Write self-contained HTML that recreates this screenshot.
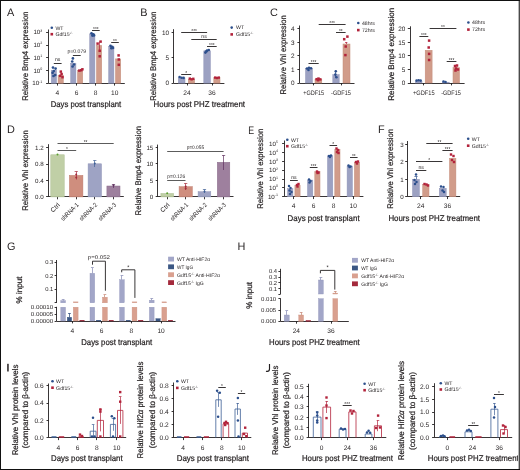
<!DOCTYPE html>
<html><head><meta charset="utf-8"><style>
html,body{margin:0;padding:0;background:#fff;}
svg{display:block;will-change:transform;}
text{font-family:"Liberation Sans",sans-serif;fill:#231f20;text-rendering:geometricPrecision;}
text.b{stroke:#231f20;stroke-width:0.22px;}
</style></head><body>
<svg width="520" height="470" viewBox="0 0 520 470">
<rect x="0" y="0" width="520" height="470" fill="#fff"/>
<text x="7" y="16.3" font-size="10.9">A</text>
<text x="28.3" y="56.2" font-size="8.2" text-anchor="middle" textLength="89.3" lengthAdjust="spacingAndGlyphs" transform="rotate(-90 28.3 56.2)" class="b">Relative Bmp4 expression</text>
<line x1="48.5" y1="29.5" x2="48.5" y2="83.2" stroke="#231f20" stroke-width="0.9"/>
<line x1="46.1" y1="32.5" x2="48.3" y2="32.5" stroke="#231f20" stroke-width="0.9"/>
<line x1="46.1" y1="45.5" x2="48.3" y2="45.5" stroke="#231f20" stroke-width="0.9"/>
<line x1="46.1" y1="57.5" x2="48.3" y2="57.5" stroke="#231f20" stroke-width="0.9"/>
<line x1="46.1" y1="70.5" x2="48.3" y2="70.5" stroke="#231f20" stroke-width="0.9"/>
<line x1="46.1" y1="83.5" x2="48.3" y2="83.5" stroke="#231f20" stroke-width="0.9"/>
<text x="42.3" y="34.2" font-size="6.2" text-anchor="end">10<tspan dy="-2.7" font-size="3.6">3</tspan></text>
<text x="42.3" y="47.1" font-size="6.2" text-anchor="end">10<tspan dy="-2.7" font-size="3.6">2</tspan></text>
<text x="42.3" y="59.8" font-size="6.2" text-anchor="end">10<tspan dy="-2.7" font-size="3.6">1</tspan></text>
<text x="42.3" y="72.6" font-size="6.2" text-anchor="end">10<tspan dy="-2.7" font-size="3.6">0</tspan></text>
<text x="42.3" y="85.3" font-size="6.2" text-anchor="end">10<tspan dy="-2.7" font-size="3.6">-1</tspan></text>
<line x1="48.3" y1="83.5" x2="124.8" y2="83.5" stroke="#231f20" stroke-width="0.9"/>
<line x1="57.5" y1="83.2" x2="57.5" y2="85.6" stroke="#231f20" stroke-width="0.9"/>
<text x="57.3" y="94.6" font-size="6.6" text-anchor="middle">4</text>
<line x1="76.5" y1="83.2" x2="76.5" y2="85.6" stroke="#231f20" stroke-width="0.9"/>
<text x="76.7" y="94.6" font-size="6.6" text-anchor="middle">6</text>
<line x1="95.5" y1="83.2" x2="95.5" y2="85.6" stroke="#231f20" stroke-width="0.9"/>
<text x="95.7" y="94.6" font-size="6.6" text-anchor="middle">8</text>
<line x1="114.5" y1="83.2" x2="114.5" y2="85.6" stroke="#231f20" stroke-width="0.9"/>
<text x="114.7" y="94.6" font-size="6.6" text-anchor="middle">10</text>
<text x="50.7" y="106.8" font-size="8.4" textLength="70.6" lengthAdjust="spacingAndGlyphs" class="b">Days post transplant</text>
<rect x="51.3" y="70.2" width="5.2" height="13" fill="#9ca1c2" stroke="#8f94b8" stroke-width="0.5"/>
<rect x="58.1" y="75.2" width="5.2" height="8" fill="#d19c8a" stroke="#c48b79" stroke-width="0.5"/>
<rect x="70.7" y="63.2" width="5.2" height="20" fill="#9ca1c2" stroke="#8f94b8" stroke-width="0.5"/>
<rect x="77.5" y="70.4" width="5.2" height="12.8" fill="#d19c8a" stroke="#c48b79" stroke-width="0.5"/>
<rect x="89.7" y="33.9" width="5.2" height="49.3" fill="#9ca1c2" stroke="#8f94b8" stroke-width="0.5"/>
<rect x="96.5" y="45.4" width="5.2" height="37.8" fill="#d19c8a" stroke="#c48b79" stroke-width="0.5"/>
<rect x="108.7" y="46.6" width="5.2" height="36.6" fill="#9ca1c2" stroke="#8f94b8" stroke-width="0.5"/>
<rect x="115.5" y="58.9" width="5.2" height="24.3" fill="#d19c8a" stroke="#c48b79" stroke-width="0.5"/>
<circle cx="53" cy="67.6" r="1.35" fill="#2c4f8c"/>
<circle cx="55.6" cy="68.6" r="1.35" fill="#2c4f8c"/>
<circle cx="53.8" cy="71" r="1.35" fill="#2c4f8c"/>
<circle cx="52.6" cy="72.8" r="1.35" fill="#2c4f8c"/>
<circle cx="55.2" cy="75" r="1.35" fill="#2c4f8c"/>
<circle cx="53.5" cy="76" r="1.35" fill="#2c4f8c"/>
<rect x="59.55" y="70.35" width="2.5" height="2.5" fill="#b2233b"/>
<rect x="60.35" y="72.75" width="2.5" height="2.5" fill="#b2233b"/>
<rect x="58.95" y="74.55" width="2.5" height="2.5" fill="#b2233b"/>
<rect x="61.25" y="75.95" width="2.5" height="2.5" fill="#b2233b"/>
<circle cx="72.9" cy="58.4" r="1.35" fill="#2c4f8c"/>
<circle cx="72.2" cy="61.5" r="1.35" fill="#2c4f8c"/>
<circle cx="74" cy="64.5" r="1.35" fill="#2c4f8c"/>
<circle cx="72.6" cy="66.5" r="1.35" fill="#2c4f8c"/>
<rect x="78.05" y="69.35" width="2.5" height="2.5" fill="#b2233b"/>
<rect x="79.95" y="68.95" width="2.5" height="2.5" fill="#b2233b"/>
<rect x="81.15" y="68.05" width="2.5" height="2.5" fill="#b2233b"/>
<circle cx="91.5" cy="33.3" r="1.35" fill="#2c4f8c"/>
<circle cx="93.2" cy="34.3" r="1.35" fill="#2c4f8c"/>
<circle cx="92.4" cy="35.6" r="1.35" fill="#2c4f8c"/>
<circle cx="94" cy="35.4" r="1.35" fill="#2c4f8c"/>
<rect x="96.35" y="42.35" width="2.5" height="2.5" fill="#b2233b"/>
<rect x="99.35" y="40.35" width="2.5" height="2.5" fill="#b2233b"/>
<rect x="98.45" y="49.55" width="2.5" height="2.5" fill="#b2233b"/>
<rect x="98.45" y="55.05" width="2.5" height="2.5" fill="#b2233b"/>
<line x1="99.5" y1="41.5" x2="99.5" y2="50" stroke="#b2233b" stroke-width="0.7"/>
<circle cx="110.5" cy="45.8" r="1.35" fill="#2c4f8c"/>
<circle cx="112.2" cy="46.8" r="1.35" fill="#2c4f8c"/>
<circle cx="111.4" cy="48.2" r="1.35" fill="#2c4f8c"/>
<circle cx="113" cy="48" r="1.35" fill="#2c4f8c"/>
<rect x="117.35" y="54.15" width="2.5" height="2.5" fill="#b2233b"/>
<rect x="117.55" y="58.25" width="2.5" height="2.5" fill="#b2233b"/>
<rect x="117.55" y="63.55" width="2.5" height="2.5" fill="#b2233b"/>
<line x1="53.8" y1="63.5" x2="61.6" y2="63.5" stroke="#231f20" stroke-width="0.9"/>
<text x="57.7" y="61.4" font-size="5.2" text-anchor="middle">ns</text>
<line x1="72.9" y1="55.5" x2="80.7" y2="55.5" stroke="#231f20" stroke-width="0.9"/>
<text x="76.8" y="53.4" font-size="5.2" text-anchor="middle" textLength="18.5" lengthAdjust="spacingAndGlyphs">p=0.079</text>
<line x1="92" y1="30.5" x2="99.7" y2="30.5" stroke="#231f20" stroke-width="0.9"/>
<text x="95.85" y="31.1" font-size="6" text-anchor="middle" textLength="5.7" lengthAdjust="spacingAndGlyphs">***</text>
<line x1="111.2" y1="42.5" x2="118.8" y2="42.5" stroke="#231f20" stroke-width="0.9"/>
<text x="115" y="43.1" font-size="6" text-anchor="middle" textLength="3.8" lengthAdjust="spacingAndGlyphs">**</text>
<circle cx="51.8" cy="27.8" r="1.3" fill="#2c4f8c"/>
<text x="55.4" y="29.67" font-size="5.2">WT</text>
<rect x="50.5" y="32.9" width="2.6" height="2.6" fill="#b2233b"/>
<text x="55.4" y="36.07" font-size="5.2">Gdf15<tspan dy="-2" font-size="3.12">-/-</tspan></text>
<text x="140.2" y="16.3" font-size="10.9">B</text>
<text x="155.6" y="56.2" font-size="8.2" text-anchor="middle" textLength="89.3" lengthAdjust="spacingAndGlyphs" transform="rotate(-90 155.6 56.2)" class="b">Relative Bmp4 expression</text>
<line x1="173.5" y1="29.2" x2="173.5" y2="83.1" stroke="#231f20" stroke-width="0.9"/>
<line x1="171.6" y1="32.5" x2="173.8" y2="32.5" stroke="#231f20" stroke-width="0.9"/>
<text x="169" y="34.8" font-size="6.4" text-anchor="end">10</text>
<line x1="171.6" y1="57.5" x2="173.8" y2="57.5" stroke="#231f20" stroke-width="0.9"/>
<text x="169" y="60.1" font-size="6.4" text-anchor="end">5</text>
<line x1="171.6" y1="83.5" x2="173.8" y2="83.5" stroke="#231f20" stroke-width="0.9"/>
<text x="169" y="85.4" font-size="6.4" text-anchor="end">0</text>
<line x1="173.8" y1="83.5" x2="224.4" y2="83.5" stroke="#231f20" stroke-width="0.9"/>
<line x1="187.5" y1="83.1" x2="187.5" y2="85.5" stroke="#231f20" stroke-width="0.9"/>
<text x="187" y="95" font-size="6.6" text-anchor="middle">24</text>
<line x1="212.5" y1="83.1" x2="212.5" y2="85.5" stroke="#231f20" stroke-width="0.9"/>
<text x="212" y="95" font-size="6.6" text-anchor="middle">36</text>
<text x="153.6" y="107.1" font-size="8.4" textLength="91.4" lengthAdjust="spacingAndGlyphs" class="b">Hours post PHZ treatment</text>
<rect x="178.3" y="77.8" width="6.7" height="5.3" fill="#9ca1c2" stroke="#8f94b8" stroke-width="0.5"/>
<rect x="188.3" y="79.2" width="6.3" height="3.9" fill="#d19c8a" stroke="#c48b79" stroke-width="0.5"/>
<rect x="203.8" y="50.8" width="6.6" height="32.3" fill="#9ca1c2" stroke="#8f94b8" stroke-width="0.5"/>
<rect x="213.8" y="77.6" width="6.2" height="5.5" fill="#d19c8a" stroke="#c48b79" stroke-width="0.5"/>
<circle cx="179.6" cy="77" r="1.3" fill="#2c4f8c"/>
<circle cx="181.6" cy="77.8" r="1.3" fill="#2c4f8c"/>
<circle cx="183.6" cy="77.9" r="1.3" fill="#2c4f8c"/>
<rect x="188.6" y="77.4" width="2.4" height="2.4" fill="#b2233b"/>
<rect x="190.4" y="78.1" width="2.4" height="2.4" fill="#b2233b"/>
<rect x="192.1" y="77.6" width="2.4" height="2.4" fill="#b2233b"/>
<circle cx="205.4" cy="52.6" r="1.3" fill="#2c4f8c"/>
<circle cx="207" cy="50.6" r="1.3" fill="#2c4f8c"/>
<circle cx="208.8" cy="50" r="1.3" fill="#2c4f8c"/>
<circle cx="206.4" cy="51.4" r="1.3" fill="#2c4f8c"/>
<rect x="214" y="76.4" width="2.4" height="2.4" fill="#b2233b"/>
<rect x="215.8" y="76.8" width="2.4" height="2.4" fill="#b2233b"/>
<rect x="217.6" y="76.4" width="2.4" height="2.4" fill="#b2233b"/>
<line x1="181.2" y1="32.5" x2="207.1" y2="32.5" stroke="#231f20" stroke-width="0.9"/>
<text x="194.15" y="33.1" font-size="6" text-anchor="middle" textLength="5.7" lengthAdjust="spacingAndGlyphs">***</text>
<line x1="191.3" y1="39.5" x2="216.7" y2="39.5" stroke="#231f20" stroke-width="0.9"/>
<text x="204" y="37.8" font-size="5.2" text-anchor="middle">ns</text>
<line x1="207" y1="46.5" x2="216.7" y2="46.5" stroke="#231f20" stroke-width="0.9"/>
<text x="211.85" y="47.1" font-size="6" text-anchor="middle" textLength="5.7" lengthAdjust="spacingAndGlyphs">***</text>
<line x1="181.2" y1="74.5" x2="191.3" y2="74.5" stroke="#231f20" stroke-width="0.9"/>
<text x="186.25" y="75.1" font-size="6" text-anchor="middle" textLength="1.9" lengthAdjust="spacingAndGlyphs">*</text>
<circle cx="231.7" cy="27.6" r="1.3" fill="#2c4f8c"/>
<text x="236.1" y="29.47" font-size="5.2">WT</text>
<rect x="230.4" y="33.1" width="2.6" height="2.6" fill="#b2233b"/>
<text x="236.1" y="36.27" font-size="5.2">Gdf15<tspan dy="-2" font-size="3.12">-/-</tspan></text>
<text x="270" y="16.3" font-size="10.9">C</text>
<text x="285.8" y="54.9" font-size="8.2" text-anchor="middle" textLength="79.2" lengthAdjust="spacingAndGlyphs" transform="rotate(-90 285.8 54.9)" class="b">Relative Vhl expression</text>
<line x1="299.5" y1="25.5" x2="299.5" y2="83" stroke="#231f20" stroke-width="0.9"/>
<line x1="297.4" y1="28.5" x2="299.6" y2="28.5" stroke="#231f20" stroke-width="0.9"/>
<text x="294.5" y="30.9" font-size="6.4" text-anchor="end">4</text>
<line x1="297.4" y1="42.5" x2="299.6" y2="42.5" stroke="#231f20" stroke-width="0.9"/>
<text x="294.5" y="44.5" font-size="6.4" text-anchor="end">3</text>
<line x1="297.4" y1="55.5" x2="299.6" y2="55.5" stroke="#231f20" stroke-width="0.9"/>
<text x="294.5" y="58.1" font-size="6.4" text-anchor="end">2</text>
<line x1="297.4" y1="69.5" x2="299.6" y2="69.5" stroke="#231f20" stroke-width="0.9"/>
<text x="294.5" y="71.7" font-size="6.4" text-anchor="end">1</text>
<line x1="297.4" y1="83.5" x2="299.6" y2="83.5" stroke="#231f20" stroke-width="0.9"/>
<text x="294.5" y="85.3" font-size="6.4" text-anchor="end">0</text>
<line x1="299.6" y1="83.5" x2="354.5" y2="83.5" stroke="#231f20" stroke-width="0.9"/>
<line x1="313.5" y1="83" x2="313.5" y2="85.4" stroke="#231f20" stroke-width="0.9"/>
<text x="313.7" y="94.6" font-size="6.6" text-anchor="middle" textLength="21" lengthAdjust="spacingAndGlyphs">+GDF15</text>
<line x1="341.5" y1="83" x2="341.5" y2="85.4" stroke="#231f20" stroke-width="0.9"/>
<text x="341" y="94.6" font-size="6.6" text-anchor="middle" textLength="19.8" lengthAdjust="spacingAndGlyphs">-GDF15</text>
<rect x="305.5" y="68.5" width="6.9" height="14.5" fill="#9ca1c2" stroke="#8f94b8" stroke-width="0.5"/>
<rect x="315" y="79.2" width="6.8" height="3.8" fill="#d19c8a" stroke="#c48b79" stroke-width="0.5"/>
<rect x="332.8" y="74.6" width="6.4" height="8.4" fill="#9ca1c2" stroke="#8f94b8" stroke-width="0.5"/>
<rect x="343" y="44" width="7" height="39" fill="#d19c8a" stroke="#c48b79" stroke-width="0.5"/>
<circle cx="307" cy="68.5" r="1.3" fill="#2c4f8c"/>
<circle cx="309" cy="67.8" r="1.3" fill="#2c4f8c"/>
<circle cx="311" cy="68.3" r="1.3" fill="#2c4f8c"/>
<circle cx="308.5" cy="70" r="1.3" fill="#2c4f8c"/>
<rect x="315.35" y="77.95" width="2.5" height="2.5" fill="#b2233b"/>
<rect x="317.25" y="77.35" width="2.5" height="2.5" fill="#b2233b"/>
<rect x="319.05" y="78.15" width="2.5" height="2.5" fill="#b2233b"/>
<rect x="316.75" y="78.95" width="2.5" height="2.5" fill="#b2233b"/>
<line x1="335.5" y1="70.5" x2="335.5" y2="78" stroke="#2c4f8c" stroke-width="0.7"/>
<circle cx="335.8" cy="71.2" r="1.3" fill="#2c4f8c"/>
<circle cx="335.4" cy="74.6" r="1.3" fill="#2c4f8c"/>
<circle cx="336.4" cy="77.3" r="1.3" fill="#2c4f8c"/>
<rect x="342.95" y="37.95" width="2.5" height="2.5" fill="#b2233b"/>
<rect x="346.15" y="35.35" width="2.5" height="2.5" fill="#b2233b"/>
<rect x="344.45" y="45.25" width="2.5" height="2.5" fill="#b2233b"/>
<rect x="344.15" y="53.85" width="2.5" height="2.5" fill="#b2233b"/>
<line x1="346.5" y1="44" x2="346.5" y2="42.3" stroke="#b2233b" stroke-width="0.7"/>
<line x1="345" y1="42.5" x2="347.4" y2="42.5" stroke="#b2233b" stroke-width="0.7"/>
<line x1="318.7" y1="24.5" x2="345.6" y2="24.5" stroke="#231f20" stroke-width="0.9"/>
<text x="332.15" y="25.1" font-size="6" text-anchor="middle" textLength="5.7" lengthAdjust="spacingAndGlyphs">***</text>
<line x1="336" y1="32.5" x2="345.6" y2="32.5" stroke="#231f20" stroke-width="0.9"/>
<text x="340.8" y="33.1" font-size="6" text-anchor="middle" textLength="3.8" lengthAdjust="spacingAndGlyphs">**</text>
<line x1="308.5" y1="63.5" x2="318.7" y2="63.5" stroke="#231f20" stroke-width="0.9"/>
<text x="313.6" y="64.1" font-size="6" text-anchor="middle" textLength="5.7" lengthAdjust="spacingAndGlyphs">***</text>
<circle cx="358.3" cy="23" r="1.3" fill="#2c4f8c"/>
<text x="361.9" y="24.87" font-size="5.2">48hrs</text>
<rect x="357" y="28.8" width="2.6" height="2.6" fill="#b2233b"/>
<text x="361.9" y="31.97" font-size="5.2">72hrs</text>
<text x="394.3" y="54.3" font-size="8.2" text-anchor="middle" textLength="93" lengthAdjust="spacingAndGlyphs" transform="rotate(-90 394.3 54.3)" class="b">Relative Bmp4 expression</text>
<line x1="410.5" y1="26.3" x2="410.5" y2="83" stroke="#231f20" stroke-width="0.9"/>
<line x1="407.8" y1="28.5" x2="410" y2="28.5" stroke="#231f20" stroke-width="0.9"/>
<text x="405.4" y="30.9" font-size="6.4" text-anchor="end">20</text>
<line x1="407.8" y1="42.5" x2="410" y2="42.5" stroke="#231f20" stroke-width="0.9"/>
<text x="405.4" y="44.5" font-size="6.4" text-anchor="end">15</text>
<line x1="407.8" y1="55.5" x2="410" y2="55.5" stroke="#231f20" stroke-width="0.9"/>
<text x="405.4" y="58.1" font-size="6.4" text-anchor="end">10</text>
<line x1="407.8" y1="69.5" x2="410" y2="69.5" stroke="#231f20" stroke-width="0.9"/>
<text x="405.4" y="71.7" font-size="6.4" text-anchor="end">5</text>
<line x1="407.8" y1="83.5" x2="410" y2="83.5" stroke="#231f20" stroke-width="0.9"/>
<text x="405.4" y="85.3" font-size="6.4" text-anchor="end">0</text>
<line x1="410" y1="83.5" x2="464.6" y2="83.5" stroke="#231f20" stroke-width="0.9"/>
<line x1="423.5" y1="83" x2="423.5" y2="85.4" stroke="#231f20" stroke-width="0.9"/>
<text x="423.8" y="94.5" font-size="6.6" text-anchor="middle" textLength="21.5" lengthAdjust="spacingAndGlyphs">+GDF15</text>
<line x1="451.5" y1="83" x2="451.5" y2="85.4" stroke="#231f20" stroke-width="0.9"/>
<text x="451" y="94.5" font-size="6.6" text-anchor="middle" textLength="19.5" lengthAdjust="spacingAndGlyphs">-GDF15</text>
<rect x="415.5" y="81.2" width="6.5" height="1.8" fill="#9ca1c2" stroke="#8f94b8" stroke-width="0.5"/>
<rect x="425.2" y="50.3" width="6.9" height="32.7" fill="#d19c8a" stroke="#c48b79" stroke-width="0.5"/>
<rect x="442.4" y="82.2" width="6.9" height="0.8" fill="#9ca1c2" stroke="#8f94b8" stroke-width="0.5"/>
<rect x="453" y="67.7" width="6.5" height="15.3" fill="#d19c8a" stroke="#c48b79" stroke-width="0.5"/>
<circle cx="416.6" cy="80.6" r="1.3" fill="#2c4f8c"/>
<circle cx="418.6" cy="80.2" r="1.3" fill="#2c4f8c"/>
<circle cx="420.6" cy="80.6" r="1.3" fill="#2c4f8c"/>
<rect x="427.85" y="39.35" width="2.5" height="2.5" fill="#b2233b"/>
<rect x="427.45" y="46.25" width="2.5" height="2.5" fill="#b2233b"/>
<rect x="427.85" y="52.65" width="2.5" height="2.5" fill="#b2233b"/>
<rect x="427.85" y="58.75" width="2.5" height="2.5" fill="#b2233b"/>
<circle cx="443.5" cy="81.5" r="1.3" fill="#2c4f8c"/>
<circle cx="445.5" cy="82" r="1.3" fill="#2c4f8c"/>
<rect x="453.75" y="64.75" width="2.5" height="2.5" fill="#b2233b"/>
<rect x="455.75" y="64.25" width="2.5" height="2.5" fill="#b2233b"/>
<rect x="454.75" y="67.25" width="2.5" height="2.5" fill="#b2233b"/>
<rect x="456.75" y="68.25" width="2.5" height="2.5" fill="#b2233b"/>
<rect x="454.25" y="69.25" width="2.5" height="2.5" fill="#b2233b"/>
<line x1="419.4" y1="36.5" x2="428.3" y2="36.5" stroke="#231f20" stroke-width="0.9"/>
<text x="423.85" y="37.1" font-size="6" text-anchor="middle" textLength="5.7" lengthAdjust="spacingAndGlyphs">***</text>
<line x1="429.6" y1="28.5" x2="456.4" y2="28.5" stroke="#231f20" stroke-width="0.9"/>
<text x="443" y="29.1" font-size="6" text-anchor="middle" textLength="3.8" lengthAdjust="spacingAndGlyphs">**</text>
<line x1="446.7" y1="61.5" x2="456.4" y2="61.5" stroke="#231f20" stroke-width="0.9"/>
<text x="451.55" y="62.1" font-size="6" text-anchor="middle" textLength="5.7" lengthAdjust="spacingAndGlyphs">***</text>
<circle cx="468.4" cy="22.5" r="1.3" fill="#2c4f8c"/>
<text x="472" y="24.37" font-size="5.2">48hrs</text>
<rect x="467.1" y="28.3" width="2.6" height="2.6" fill="#b2233b"/>
<text x="472" y="31.47" font-size="5.2">72hrs</text>
<text x="7" y="133.1" font-size="10.9">D</text>
<text x="28.3" y="170.5" font-size="8.2" text-anchor="middle" textLength="80.5" lengthAdjust="spacingAndGlyphs" transform="rotate(-90 28.3 170.5)" class="b">Relative Vhl expression</text>
<line x1="48.5" y1="144.2" x2="48.5" y2="196.9" stroke="#231f20" stroke-width="0.9"/>
<line x1="46.1" y1="147.5" x2="48.3" y2="147.5" stroke="#231f20" stroke-width="0.9"/>
<text x="43.7" y="149.73" font-size="6.2" text-anchor="end">1.2</text>
<line x1="46.1" y1="164.5" x2="48.3" y2="164.5" stroke="#231f20" stroke-width="0.9"/>
<text x="43.7" y="166.23" font-size="6.2" text-anchor="end">0.8</text>
<line x1="46.1" y1="180.5" x2="48.3" y2="180.5" stroke="#231f20" stroke-width="0.9"/>
<text x="43.7" y="182.63" font-size="6.2" text-anchor="end">0.4</text>
<line x1="46.1" y1="196.5" x2="48.3" y2="196.5" stroke="#231f20" stroke-width="0.9"/>
<text x="43.7" y="199.13" font-size="6.2" text-anchor="end">0.0</text>
<line x1="48.3" y1="196.5" x2="123.8" y2="196.5" stroke="#231f20" stroke-width="0.9"/>
<line x1="57.5" y1="196.9" x2="57.5" y2="199.3" stroke="#231f20" stroke-width="0.9"/>
<line x1="76.5" y1="196.9" x2="76.5" y2="199.3" stroke="#231f20" stroke-width="0.9"/>
<line x1="94.5" y1="196.9" x2="94.5" y2="199.3" stroke="#231f20" stroke-width="0.9"/>
<line x1="113.5" y1="196.9" x2="113.5" y2="199.3" stroke="#231f20" stroke-width="0.9"/>
<rect x="50.8" y="154.8" width="13.4" height="42.1" fill="#c0cfa6" stroke="#a9bb8d" stroke-width="0.5"/>
<rect x="69.4" y="175.4" width="13.5" height="21.5" fill="#cf8e7e" stroke="#bd7a6a" stroke-width="0.5"/>
<rect x="88.1" y="163.8" width="13.4" height="33.1" fill="#9ea3c4" stroke="#8f94b8" stroke-width="0.5"/>
<rect x="106.9" y="186" width="13.1" height="10.9" fill="#9e809e" stroke="#8a6b8a" stroke-width="0.5"/>
<circle cx="57.5" cy="154.6" r="1" fill="#5aa02c"/>
<line x1="76.5" y1="179.5" x2="76.5" y2="171.5" stroke="#a52a3a" stroke-width="0.7"/>
<line x1="74.6" y1="171.5" x2="77.8" y2="171.5" stroke="#a52a3a" stroke-width="0.7"/>
<circle cx="76.2" cy="174.5" r="1" fill="#a52a3a"/>
<circle cx="76.2" cy="177.5" r="1" fill="#a52a3a"/>
<line x1="94.5" y1="167" x2="94.5" y2="160.5" stroke="#3d5f95" stroke-width="0.7"/>
<line x1="93.2" y1="160.5" x2="96.4" y2="160.5" stroke="#3d5f95" stroke-width="0.7"/>
<circle cx="94.8" cy="163.5" r="1" fill="#3d5f95"/>
<line x1="113.5" y1="188" x2="113.5" y2="184.3" stroke="#5e2f5e" stroke-width="0.7"/>
<line x1="111.9" y1="184.5" x2="115.1" y2="184.5" stroke="#5e2f5e" stroke-width="0.7"/>
<circle cx="113.5" cy="185.5" r="1" fill="#5e2f5e"/>
<line x1="57.5" y1="143.5" x2="113.7" y2="143.5" stroke="#4a4a4a" stroke-width="0.9"/>
<text x="85.6" y="144.1" font-size="6" text-anchor="middle" textLength="3.8" lengthAdjust="spacingAndGlyphs">**</text>
<line x1="57.5" y1="150.5" x2="76.2" y2="150.5" stroke="#4a4a4a" stroke-width="0.9"/>
<text x="66.85" y="151.1" font-size="6" text-anchor="middle" textLength="1.9" lengthAdjust="spacingAndGlyphs">*</text>
<text x="60.4" y="205.4" font-size="6.4" text-anchor="end" textLength="10.3" lengthAdjust="spacingAndGlyphs" transform="rotate(-45 60.4 205.4)">Ctrl</text>
<text x="79.1" y="205.4" font-size="6.4" text-anchor="end" textLength="22.5" lengthAdjust="spacingAndGlyphs" transform="rotate(-45 79.1 205.4)">shRNA-1</text>
<text x="97.7" y="205.4" font-size="6.4" text-anchor="end" textLength="22.5" lengthAdjust="spacingAndGlyphs" transform="rotate(-45 97.7 205.4)">shRNA-2</text>
<text x="116.6" y="205.4" font-size="6.4" text-anchor="end" textLength="22.5" lengthAdjust="spacingAndGlyphs" transform="rotate(-45 116.6 205.4)">shRNA-3</text>
<text x="140.6" y="170.7" font-size="8.2" text-anchor="middle" textLength="89.4" lengthAdjust="spacingAndGlyphs" transform="rotate(-90 140.6 170.7)" class="b">Relative Bmp4 expression</text>
<line x1="157.5" y1="144.6" x2="157.5" y2="196.9" stroke="#231f20" stroke-width="0.9"/>
<line x1="155.7" y1="147.5" x2="157.9" y2="147.5" stroke="#231f20" stroke-width="0.9"/>
<text x="153.3" y="149.53" font-size="6.2" text-anchor="end">15</text>
<line x1="155.7" y1="163.5" x2="157.9" y2="163.5" stroke="#231f20" stroke-width="0.9"/>
<text x="153.3" y="166.13" font-size="6.2" text-anchor="end">10</text>
<line x1="155.7" y1="180.5" x2="157.9" y2="180.5" stroke="#231f20" stroke-width="0.9"/>
<text x="153.3" y="182.53" font-size="6.2" text-anchor="end">5</text>
<line x1="155.7" y1="196.5" x2="157.9" y2="196.5" stroke="#231f20" stroke-width="0.9"/>
<text x="153.3" y="199.13" font-size="6.2" text-anchor="end">0</text>
<line x1="157.9" y1="196.5" x2="233.5" y2="196.5" stroke="#231f20" stroke-width="0.9"/>
<line x1="167.5" y1="196.9" x2="167.5" y2="199.3" stroke="#231f20" stroke-width="0.9"/>
<line x1="185.5" y1="196.9" x2="185.5" y2="199.3" stroke="#231f20" stroke-width="0.9"/>
<line x1="204.5" y1="196.9" x2="204.5" y2="199.3" stroke="#231f20" stroke-width="0.9"/>
<line x1="223.5" y1="196.9" x2="223.5" y2="199.3" stroke="#231f20" stroke-width="0.9"/>
<rect x="160.9" y="193.5" width="12.7" height="3.4" fill="#c0cfa6" stroke="#a9bb8d" stroke-width="0.5"/>
<rect x="179.1" y="186.7" width="13.2" height="10.2" fill="#cf8e7e" stroke="#bd7a6a" stroke-width="0.5"/>
<rect x="198.1" y="191.7" width="12.7" height="5.2" fill="#9ea3c4" stroke="#8f94b8" stroke-width="0.5"/>
<rect x="217.3" y="162.3" width="12.5" height="34.6" fill="#9e809e" stroke="#8a6b8a" stroke-width="0.5"/>
<circle cx="167.2" cy="193.3" r="1" fill="#5aa02c"/>
<line x1="185.5" y1="190" x2="185.5" y2="183.5" stroke="#a52a3a" stroke-width="0.7"/>
<line x1="184.1" y1="183.5" x2="187.3" y2="183.5" stroke="#a52a3a" stroke-width="0.7"/>
<circle cx="185.7" cy="186.5" r="1" fill="#a52a3a"/>
<circle cx="185.7" cy="188.5" r="1" fill="#a52a3a"/>
<line x1="204.5" y1="193" x2="204.5" y2="189.5" stroke="#3d5f95" stroke-width="0.7"/>
<line x1="202.9" y1="189.5" x2="206.1" y2="189.5" stroke="#3d5f95" stroke-width="0.7"/>
<circle cx="204.5" cy="191.5" r="1" fill="#3d5f95"/>
<line x1="223.5" y1="170" x2="223.5" y2="155.3" stroke="#5e2f5e" stroke-width="0.7"/>
<line x1="222" y1="155.5" x2="225.2" y2="155.5" stroke="#5e2f5e" stroke-width="0.7"/>
<line x1="167.2" y1="151.5" x2="223.6" y2="151.5" stroke="#4a4a4a" stroke-width="0.9"/>
<text x="195.4" y="148.6" font-size="5" text-anchor="middle" textLength="17.5" lengthAdjust="spacingAndGlyphs">p=0.055</text>
<line x1="167.2" y1="180.5" x2="185.5" y2="180.5" stroke="#4a4a4a" stroke-width="0.9"/>
<text x="176.35" y="177.8" font-size="5" text-anchor="middle" textLength="18" lengthAdjust="spacingAndGlyphs">p=0.126</text>
<text x="170.1" y="205.4" font-size="6.4" text-anchor="end" textLength="10.3" lengthAdjust="spacingAndGlyphs" transform="rotate(-45 170.1 205.4)">Ctrl</text>
<text x="188.6" y="205.4" font-size="6.4" text-anchor="end" textLength="22.5" lengthAdjust="spacingAndGlyphs" transform="rotate(-45 188.6 205.4)">shRNA-1</text>
<text x="207.4" y="205.4" font-size="6.4" text-anchor="end" textLength="22.5" lengthAdjust="spacingAndGlyphs" transform="rotate(-45 207.4 205.4)">shRNA-2</text>
<text x="226.5" y="205.4" font-size="6.4" text-anchor="end" textLength="22.5" lengthAdjust="spacingAndGlyphs" transform="rotate(-45 226.5 205.4)">shRNA-3</text>
<text x="248.2" y="133.8" font-size="10.9" textLength="5.9" lengthAdjust="spacingAndGlyphs">E</text>
<text x="262.6" y="168.8" font-size="8.2" text-anchor="middle" textLength="80" lengthAdjust="spacingAndGlyphs" transform="rotate(-90 262.6 168.8)" class="b">Relative Vhl expression</text>
<line x1="284.5" y1="140.5" x2="284.5" y2="196.7" stroke="#231f20" stroke-width="0.9"/>
<line x1="282.1" y1="143.5" x2="284.3" y2="143.5" stroke="#231f20" stroke-width="0.9"/>
<line x1="282.1" y1="152.5" x2="284.3" y2="152.5" stroke="#231f20" stroke-width="0.9"/>
<line x1="282.1" y1="161.5" x2="284.3" y2="161.5" stroke="#231f20" stroke-width="0.9"/>
<line x1="282.1" y1="170.5" x2="284.3" y2="170.5" stroke="#231f20" stroke-width="0.9"/>
<line x1="282.1" y1="179.5" x2="284.3" y2="179.5" stroke="#231f20" stroke-width="0.9"/>
<line x1="282.1" y1="187.5" x2="284.3" y2="187.5" stroke="#231f20" stroke-width="0.9"/>
<line x1="282.1" y1="196.5" x2="284.3" y2="196.5" stroke="#231f20" stroke-width="0.9"/>
<text x="278" y="146" font-size="6.2" text-anchor="end">10<tspan dy="-2.7" font-size="3.6">5</tspan></text>
<text x="278" y="154.8" font-size="6.2" text-anchor="end">10<tspan dy="-2.7" font-size="3.6">4</tspan></text>
<text x="278" y="163.6" font-size="6.2" text-anchor="end">10<tspan dy="-2.7" font-size="3.6">3</tspan></text>
<text x="278" y="172.4" font-size="6.2" text-anchor="end">10<tspan dy="-2.7" font-size="3.6">2</tspan></text>
<text x="278" y="181.2" font-size="6.2" text-anchor="end">10<tspan dy="-2.7" font-size="3.6">1</tspan></text>
<text x="278" y="190" font-size="6.2" text-anchor="end">10<tspan dy="-2.7" font-size="3.6">0</tspan></text>
<text x="278" y="198.8" font-size="6.2" text-anchor="end">10<tspan dy="-2.7" font-size="3.6">-1</tspan></text>
<line x1="284.3" y1="196.5" x2="363.4" y2="196.5" stroke="#231f20" stroke-width="0.9"/>
<line x1="293.5" y1="196.7" x2="293.5" y2="199.1" stroke="#231f20" stroke-width="0.9"/>
<text x="293.7" y="208.3" font-size="6.6" text-anchor="middle">4</text>
<line x1="313.5" y1="196.7" x2="313.5" y2="199.1" stroke="#231f20" stroke-width="0.9"/>
<text x="313.6" y="208.3" font-size="6.6" text-anchor="middle">6</text>
<line x1="333.5" y1="196.7" x2="333.5" y2="199.1" stroke="#231f20" stroke-width="0.9"/>
<text x="333.6" y="208.3" font-size="6.6" text-anchor="middle">8</text>
<line x1="353.5" y1="196.7" x2="353.5" y2="199.1" stroke="#231f20" stroke-width="0.9"/>
<text x="353.2" y="208.3" font-size="6.6" text-anchor="middle">10</text>
<text x="287.6" y="220.6" font-size="8.4" textLength="72" lengthAdjust="spacingAndGlyphs" class="b">Days post transplant</text>
<rect x="287.6" y="188.6" width="5.3" height="8.1" fill="#9ca1c2" stroke="#8f94b8" stroke-width="0.5"/>
<rect x="294.9" y="185.2" width="5.2" height="11.5" fill="#d19c8a" stroke="#c48b79" stroke-width="0.5"/>
<rect x="307.5" y="180.1" width="5.3" height="16.6" fill="#9ca1c2" stroke="#8f94b8" stroke-width="0.5"/>
<rect x="314.8" y="171.7" width="5.2" height="25" fill="#d19c8a" stroke="#c48b79" stroke-width="0.5"/>
<rect x="327.5" y="155.9" width="5.3" height="40.8" fill="#9ca1c2" stroke="#8f94b8" stroke-width="0.5"/>
<rect x="334.8" y="149.5" width="5.2" height="47.2" fill="#d19c8a" stroke="#c48b79" stroke-width="0.5"/>
<rect x="347.1" y="166" width="5.3" height="30.7" fill="#9ca1c2" stroke="#8f94b8" stroke-width="0.5"/>
<rect x="354.4" y="162.3" width="5.2" height="34.4" fill="#d19c8a" stroke="#c48b79" stroke-width="0.5"/>
<circle cx="289" cy="186" r="1.25" fill="#2c4f8c"/>
<circle cx="290.5" cy="188" r="1.25" fill="#2c4f8c"/>
<circle cx="289.5" cy="190.5" r="1.25" fill="#2c4f8c"/>
<circle cx="291.5" cy="192" r="1.25" fill="#2c4f8c"/>
<circle cx="290" cy="194" r="1.25" fill="#2c4f8c"/>
<rect x="295.8" y="183.8" width="2.4" height="2.4" fill="#b2233b"/>
<rect x="297.3" y="182.8" width="2.4" height="2.4" fill="#b2233b"/>
<rect x="296.3" y="185.3" width="2.4" height="2.4" fill="#b2233b"/>
<circle cx="309" cy="179.5" r="1.25" fill="#2c4f8c"/>
<circle cx="310.5" cy="181" r="1.25" fill="#2c4f8c"/>
<circle cx="309.5" cy="182.5" r="1.25" fill="#2c4f8c"/>
<rect x="315.8" y="170.3" width="2.4" height="2.4" fill="#b2233b"/>
<rect x="317.3" y="171.3" width="2.4" height="2.4" fill="#b2233b"/>
<rect x="316.3" y="171.8" width="2.4" height="2.4" fill="#b2233b"/>
<circle cx="329" cy="156" r="1.25" fill="#2c4f8c"/>
<circle cx="331" cy="155.5" r="1.25" fill="#2c4f8c"/>
<circle cx="330" cy="157" r="1.25" fill="#2c4f8c"/>
<rect x="335.3" y="147.3" width="2.4" height="2.4" fill="#b2233b"/>
<rect x="336.8" y="148.8" width="2.4" height="2.4" fill="#b2233b"/>
<rect x="335.8" y="150.8" width="2.4" height="2.4" fill="#b2233b"/>
<rect x="337.3" y="151.8" width="2.4" height="2.4" fill="#b2233b"/>
<circle cx="348.5" cy="165.5" r="1.25" fill="#2c4f8c"/>
<circle cx="350.5" cy="166.5" r="1.25" fill="#2c4f8c"/>
<circle cx="349.5" cy="167" r="1.25" fill="#2c4f8c"/>
<rect x="354.8" y="160.8" width="2.4" height="2.4" fill="#b2233b"/>
<rect x="356.8" y="160.3" width="2.4" height="2.4" fill="#b2233b"/>
<rect x="355.8" y="162.3" width="2.4" height="2.4" fill="#b2233b"/>
<line x1="290" y1="180.5" x2="297.8" y2="180.5" stroke="#231f20" stroke-width="0.9"/>
<text x="293.9" y="179.2" font-size="5.2" text-anchor="middle">ns</text>
<line x1="309.8" y1="167.5" x2="317.5" y2="167.5" stroke="#231f20" stroke-width="0.9"/>
<text x="313.65" y="168.1" font-size="6" text-anchor="middle" textLength="5.7" lengthAdjust="spacingAndGlyphs">***</text>
<line x1="329.5" y1="145.5" x2="337.1" y2="145.5" stroke="#231f20" stroke-width="0.9"/>
<text x="333.3" y="146.1" font-size="6" text-anchor="middle" textLength="1.9" lengthAdjust="spacingAndGlyphs">*</text>
<line x1="350" y1="157.5" x2="357.6" y2="157.5" stroke="#231f20" stroke-width="0.9"/>
<text x="353.8" y="158.1" font-size="6" text-anchor="middle" textLength="3.8" lengthAdjust="spacingAndGlyphs">**</text>
<circle cx="287.3" cy="139.8" r="1.3" fill="#2c4f8c"/>
<text x="290.9" y="141.67" font-size="5.2">WT</text>
<rect x="286" y="144.9" width="2.6" height="2.6" fill="#b2233b"/>
<text x="290.9" y="148.07" font-size="5.2">Gdf15<tspan dy="-2" font-size="3.12">-/-</tspan></text>
<text x="377.9" y="133" font-size="10.9">F</text>
<text x="392.8" y="168.9" font-size="8.2" text-anchor="middle" textLength="79.7" lengthAdjust="spacingAndGlyphs" transform="rotate(-90 392.8 168.9)" class="b">Relative Vhl expression</text>
<line x1="407.5" y1="141" x2="407.5" y2="196.7" stroke="#231f20" stroke-width="0.9"/>
<line x1="405.2" y1="144.5" x2="407.4" y2="144.5" stroke="#231f20" stroke-width="0.9"/>
<text x="403.8" y="146.63" font-size="6.2" text-anchor="end">3</text>
<line x1="405.2" y1="161.5" x2="407.4" y2="161.5" stroke="#231f20" stroke-width="0.9"/>
<text x="403.8" y="164.03" font-size="6.2" text-anchor="end">2</text>
<line x1="405.2" y1="179.5" x2="407.4" y2="179.5" stroke="#231f20" stroke-width="0.9"/>
<text x="403.8" y="181.53" font-size="6.2" text-anchor="end">1</text>
<line x1="405.2" y1="196.5" x2="407.4" y2="196.5" stroke="#231f20" stroke-width="0.9"/>
<text x="403.8" y="198.93" font-size="6.2" text-anchor="end">0</text>
<line x1="407.4" y1="196.5" x2="460.2" y2="196.5" stroke="#231f20" stroke-width="0.9"/>
<line x1="420.5" y1="196.7" x2="420.5" y2="199.1" stroke="#231f20" stroke-width="0.9"/>
<text x="420.7" y="208.3" font-size="6.6" text-anchor="middle">24</text>
<line x1="447.5" y1="196.7" x2="447.5" y2="199.1" stroke="#231f20" stroke-width="0.9"/>
<text x="447.5" y="208.3" font-size="6.6" text-anchor="middle">36</text>
<text x="388.4" y="220.6" font-size="8.4" textLength="91.6" lengthAdjust="spacingAndGlyphs" class="b">Hours post PHZ treatment</text>
<rect x="412.5" y="179.4" width="6.9" height="17.3" fill="#9ca1c2" stroke="#8f94b8" stroke-width="0.5"/>
<rect x="422.7" y="184.7" width="6.3" height="12" fill="#d19c8a" stroke="#c48b79" stroke-width="0.5"/>
<rect x="439.3" y="188.3" width="6.9" height="8.4" fill="#9ca1c2" stroke="#8f94b8" stroke-width="0.5"/>
<rect x="449.5" y="158.4" width="6.4" height="38.3" fill="#d19c8a" stroke="#c48b79" stroke-width="0.5"/>
<line x1="416.5" y1="179.4" x2="416.5" y2="176.5" stroke="#2c4f8c" stroke-width="0.7"/>
<line x1="414.4" y1="176.5" x2="417.6" y2="176.5" stroke="#2c4f8c" stroke-width="0.7"/>
<circle cx="416" cy="174.5" r="1.25" fill="#2c4f8c"/>
<circle cx="414.5" cy="180" r="1.25" fill="#2c4f8c"/>
<circle cx="416.5" cy="182" r="1.25" fill="#2c4f8c"/>
<circle cx="415" cy="184" r="1.25" fill="#2c4f8c"/>
<rect x="423.3" y="182.8" width="2.4" height="2.4" fill="#b2233b"/>
<rect x="425.3" y="183.3" width="2.4" height="2.4" fill="#b2233b"/>
<rect x="426.8" y="184.3" width="2.4" height="2.4" fill="#b2233b"/>
<circle cx="441" cy="186.5" r="1.25" fill="#2c4f8c"/>
<circle cx="443.5" cy="187" r="1.25" fill="#2c4f8c"/>
<circle cx="442.5" cy="190.5" r="1.25" fill="#2c4f8c"/>
<circle cx="444" cy="192" r="1.25" fill="#2c4f8c"/>
<rect x="449.8" y="153.3" width="2.4" height="2.4" fill="#b2233b"/>
<rect x="452.3" y="154.8" width="2.4" height="2.4" fill="#b2233b"/>
<rect x="450.8" y="158.8" width="2.4" height="2.4" fill="#b2233b"/>
<rect x="452.8" y="160.8" width="2.4" height="2.4" fill="#b2233b"/>
<line x1="426.3" y1="143.5" x2="452.6" y2="143.5" stroke="#231f20" stroke-width="0.9"/>
<text x="439.45" y="144.1" font-size="6" text-anchor="middle" textLength="3.8" lengthAdjust="spacingAndGlyphs">**</text>
<line x1="442.4" y1="150.5" x2="452.6" y2="150.5" stroke="#231f20" stroke-width="0.9"/>
<text x="447.5" y="151.1" font-size="6" text-anchor="middle" textLength="5.7" lengthAdjust="spacingAndGlyphs">***</text>
<line x1="416" y1="161.5" x2="442.4" y2="161.5" stroke="#231f20" stroke-width="0.9"/>
<text x="429.2" y="162.1" font-size="6" text-anchor="middle" textLength="1.9" lengthAdjust="spacingAndGlyphs">*</text>
<line x1="416" y1="170.5" x2="426.3" y2="170.5" stroke="#231f20" stroke-width="0.9"/>
<text x="421.15" y="169" font-size="5.2" text-anchor="middle">ns</text>
<circle cx="468.2" cy="138.8" r="1.3" fill="#2c4f8c"/>
<text x="471.8" y="140.67" font-size="5.2">WT</text>
<rect x="466.9" y="144.4" width="2.6" height="2.6" fill="#b2233b"/>
<text x="471.8" y="147.57" font-size="5.2">Gdf15<tspan dy="-2" font-size="3.12">-/-</tspan></text>
<text x="7" y="249.7" font-size="10.9">G</text>
<text x="22.4" y="290" font-size="8.2" text-anchor="middle" textLength="26.8" lengthAdjust="spacingAndGlyphs" transform="rotate(-90 22.4 290)" class="b">% input</text>
<line x1="56.5" y1="260" x2="56.5" y2="302.8" stroke="#231f20" stroke-width="0.9"/>
<line x1="56.5" y1="306.8" x2="56.5" y2="321" stroke="#231f20" stroke-width="0.9"/>
<line x1="54.6" y1="262.5" x2="56.8" y2="262.5" stroke="#231f20" stroke-width="0.9"/>
<text x="53.2" y="264.2" font-size="5.8" text-anchor="end">0.3</text>
<line x1="54.6" y1="275.5" x2="56.8" y2="275.5" stroke="#231f20" stroke-width="0.9"/>
<text x="53.2" y="277.7" font-size="5.8" text-anchor="end">0.2</text>
<line x1="54.6" y1="289.5" x2="56.8" y2="289.5" stroke="#231f20" stroke-width="0.9"/>
<text x="53.2" y="291.2" font-size="5.8" text-anchor="end">0.1</text>
<line x1="54.6" y1="302.5" x2="56.8" y2="302.5" stroke="#231f20" stroke-width="0.9"/>
<line x1="54.6" y1="307.5" x2="56.8" y2="307.5" stroke="#231f20" stroke-width="0.9"/>
<text x="53.2" y="309.4" font-size="5.8" text-anchor="end" textLength="22.4" lengthAdjust="spacingAndGlyphs">0.00010</text>
<line x1="54.6" y1="314.5" x2="56.8" y2="314.5" stroke="#231f20" stroke-width="0.9"/>
<text x="53.2" y="316.2" font-size="5.8" text-anchor="end" textLength="22.4" lengthAdjust="spacingAndGlyphs">0.00005</text>
<line x1="54.6" y1="321.5" x2="56.8" y2="321.5" stroke="#231f20" stroke-width="0.9"/>
<text x="53.2" y="323.1" font-size="5.8" text-anchor="end" textLength="22.4" lengthAdjust="spacingAndGlyphs">0.00000</text>
<line x1="56.8" y1="321.5" x2="175.5" y2="321.5" stroke="#231f20" stroke-width="0.9"/>
<line x1="72.5" y1="321" x2="72.5" y2="323.4" stroke="#231f20" stroke-width="0.9"/>
<text x="72.3" y="332.9" font-size="6.6" text-anchor="middle">4</text>
<line x1="101.5" y1="321" x2="101.5" y2="323.4" stroke="#231f20" stroke-width="0.9"/>
<text x="101.7" y="332.9" font-size="6.6" text-anchor="middle">6</text>
<line x1="131.5" y1="321" x2="131.5" y2="323.4" stroke="#231f20" stroke-width="0.9"/>
<text x="131.3" y="332.9" font-size="6.6" text-anchor="middle">8</text>
<line x1="161.5" y1="321" x2="161.5" y2="323.4" stroke="#231f20" stroke-width="0.9"/>
<text x="161.1" y="332.9" font-size="6.6" text-anchor="middle">10</text>
<text x="81.2" y="344.6" font-size="8.4" textLength="71" lengthAdjust="spacingAndGlyphs" class="b">Days post transplant</text>
<rect x="60.8" y="307.2" width="4.7" height="13.8" fill="#a2a6c8" stroke="#9296bb" stroke-width="0.4"/>
<rect x="60.8" y="300.6" width="4.7" height="2.2" fill="#a2a6c8" stroke="#9296bb" stroke-width="0.4"/>
<line x1="63.5" y1="300.6" x2="63.5" y2="299.5" stroke="#9296bb" stroke-width="0.8"/>
<line x1="61.75" y1="299.5" x2="64.55" y2="299.5" stroke="#9296bb" stroke-width="0.8"/>
<rect x="67.3" y="317.3" width="4.3" height="3.7" fill="#3b5784" stroke="#2f4a78" stroke-width="0.4"/>
<line x1="69.5" y1="317.3" x2="69.5" y2="313.1" stroke="#3b5784" stroke-width="0.8"/>
<line x1="68.05" y1="313.5" x2="70.85" y2="313.5" stroke="#3b5784" stroke-width="0.8"/>
<rect x="73.3" y="307.2" width="4.8" height="13.8" fill="#d9a08f" stroke="#cc917f" stroke-width="0.4"/>
<rect x="73.3" y="301.9" width="4.8" height="0.9" fill="#d9a08f" stroke="#cc917f" stroke-width="0.4"/>
<rect x="79.8" y="320.2" width="4.4" height="0.8" fill="#a42a3c" stroke="#922234" stroke-width="0.4"/>
<rect x="90" y="307.2" width="4.7" height="13.8" fill="#a2a6c8" stroke="#9296bb" stroke-width="0.4"/>
<rect x="90" y="273.3" width="4.7" height="29.5" fill="#a2a6c8" stroke="#9296bb" stroke-width="0.4"/>
<line x1="92.5" y1="273.3" x2="92.5" y2="267.8" stroke="#9296bb" stroke-width="0.8"/>
<line x1="90.95" y1="267.5" x2="93.75" y2="267.5" stroke="#9296bb" stroke-width="0.8"/>
<rect x="96.5" y="320.3" width="4.3" height="0.7" fill="#3b5784" stroke="#2f4a78" stroke-width="0.4"/>
<rect x="102.5" y="307.2" width="4.8" height="13.8" fill="#d9a08f" stroke="#cc917f" stroke-width="0.4"/>
<rect x="102.5" y="297.2" width="4.8" height="5.6" fill="#d9a08f" stroke="#cc917f" stroke-width="0.4"/>
<line x1="104.5" y1="297.2" x2="104.5" y2="294.8" stroke="#cc917f" stroke-width="0.8"/>
<line x1="103.5" y1="294.5" x2="106.3" y2="294.5" stroke="#cc917f" stroke-width="0.8"/>
<rect x="109" y="320.2" width="4.4" height="0.8" fill="#a42a3c" stroke="#922234" stroke-width="0.4"/>
<rect x="119.6" y="307.2" width="4.7" height="13.8" fill="#a2a6c8" stroke="#9296bb" stroke-width="0.4"/>
<rect x="119.6" y="279.8" width="4.7" height="23" fill="#a2a6c8" stroke="#9296bb" stroke-width="0.4"/>
<line x1="121.5" y1="279.8" x2="121.5" y2="275.5" stroke="#9296bb" stroke-width="0.8"/>
<line x1="120.55" y1="275.5" x2="123.35" y2="275.5" stroke="#9296bb" stroke-width="0.8"/>
<rect x="126.1" y="320.3" width="4.3" height="0.7" fill="#3b5784" stroke="#2f4a78" stroke-width="0.4"/>
<rect x="132.1" y="307.2" width="4.8" height="13.8" fill="#d9a08f" stroke="#cc917f" stroke-width="0.4"/>
<rect x="132.1" y="301.9" width="4.8" height="0.9" fill="#d9a08f" stroke="#cc917f" stroke-width="0.4"/>
<rect x="138.6" y="320.2" width="4.4" height="0.8" fill="#a42a3c" stroke="#922234" stroke-width="0.4"/>
<rect x="149.4" y="307.2" width="4.7" height="13.8" fill="#a2a6c8" stroke="#9296bb" stroke-width="0.4"/>
<rect x="149.4" y="300.2" width="4.7" height="2.6" fill="#a2a6c8" stroke="#9296bb" stroke-width="0.4"/>
<line x1="151.5" y1="300.2" x2="151.5" y2="298.5" stroke="#9296bb" stroke-width="0.8"/>
<line x1="150.35" y1="298.5" x2="153.15" y2="298.5" stroke="#9296bb" stroke-width="0.8"/>
<rect x="155.9" y="318.7" width="4.3" height="2.3" fill="#3b5784" stroke="#2f4a78" stroke-width="0.4"/>
<rect x="161.9" y="307.2" width="4.8" height="13.8" fill="#d9a08f" stroke="#cc917f" stroke-width="0.4"/>
<rect x="161.9" y="301.9" width="4.8" height="0.9" fill="#d9a08f" stroke="#cc917f" stroke-width="0.4"/>
<rect x="168.4" y="320.2" width="4.4" height="0.8" fill="#a42a3c" stroke="#922234" stroke-width="0.4"/>
<path d="M92.5,264.7 V261.2 H105.4 V290.7" stroke="#231f20" stroke-width="0.9" fill="none"/>
<text x="98.9" y="258.8" font-size="5.4" text-anchor="middle" textLength="22.2" lengthAdjust="spacingAndGlyphs">p=0.052</text>
<path d="M121.7,272.3 V269.8 H134.9 V297.9" stroke="#231f20" stroke-width="0.9" fill="none"/>
<text x="128.4" y="268.6" font-size="5.4" text-anchor="middle">*</text>
<rect x="168.1" y="256.7" width="5.9" height="4.8" fill="#a2a6c8"/>
<text x="177.1" y="261" font-size="5.1" textLength="33" lengthAdjust="spacingAndGlyphs">WT Anti-HIF2α</text>
<rect x="168.1" y="264.4" width="5.9" height="4.8" fill="#3b5784"/>
<text x="177.1" y="268.7" font-size="5.1" textLength="16" lengthAdjust="spacingAndGlyphs">WT IgG</text>
<rect x="168.1" y="272.3" width="5.9" height="4.8" fill="#d9a08f"/>
<text x="177.1" y="276.6" font-size="5.1" textLength="43" lengthAdjust="spacingAndGlyphs">Gdf15<tspan dy="-1.8" font-size="3.4">-/-</tspan><tspan dy="1.8"> Anti-HIF2α</tspan></text>
<rect x="168.1" y="280.2" width="5.9" height="4.8" fill="#a42a3c"/>
<text x="177.1" y="284.5" font-size="5.1" textLength="26.7" lengthAdjust="spacingAndGlyphs">Gdf15<tspan dy="-1.8" font-size="3.4">-/-</tspan><tspan dy="1.8"> IgG</tspan></text>
<text x="237.4" y="249.6" font-size="10.9">H</text>
<text x="252.2" y="295.4" font-size="8.2" text-anchor="middle" textLength="26.8" lengthAdjust="spacingAndGlyphs" transform="rotate(-90 252.2 295.4)" class="b">% input</text>
<line x1="280.5" y1="268.8" x2="280.5" y2="294" stroke="#231f20" stroke-width="0.9"/>
<line x1="280.5" y1="298.3" x2="280.5" y2="321.3" stroke="#231f20" stroke-width="0.9"/>
<line x1="278.4" y1="271.5" x2="280.6" y2="271.5" stroke="#231f20" stroke-width="0.9"/>
<text x="277" y="273.4" font-size="5.8" text-anchor="end">0.4</text>
<line x1="278.4" y1="277.5" x2="280.6" y2="277.5" stroke="#231f20" stroke-width="0.9"/>
<text x="277" y="279.2" font-size="5.8" text-anchor="end">0.3</text>
<line x1="278.4" y1="282.5" x2="280.6" y2="282.5" stroke="#231f20" stroke-width="0.9"/>
<text x="277" y="285" font-size="5.8" text-anchor="end">0.2</text>
<line x1="278.4" y1="288.5" x2="280.6" y2="288.5" stroke="#231f20" stroke-width="0.9"/>
<text x="277" y="290.8" font-size="5.8" text-anchor="end">0.1</text>
<line x1="278.4" y1="294.5" x2="280.6" y2="294.5" stroke="#231f20" stroke-width="0.9"/>
<line x1="278.4" y1="298.5" x2="280.6" y2="298.5" stroke="#231f20" stroke-width="0.9"/>
<text x="276.2" y="300.9" font-size="5.8" text-anchor="end" textLength="15.2" lengthAdjust="spacingAndGlyphs">0.010</text>
<line x1="278.4" y1="310.5" x2="280.6" y2="310.5" stroke="#231f20" stroke-width="0.9"/>
<text x="276.2" y="312.3" font-size="5.8" text-anchor="end" textLength="15.2" lengthAdjust="spacingAndGlyphs">0.005</text>
<line x1="278.4" y1="321.5" x2="280.6" y2="321.5" stroke="#231f20" stroke-width="0.9"/>
<text x="276.2" y="323.4" font-size="5.8" text-anchor="end" textLength="15.2" lengthAdjust="spacingAndGlyphs">0.000</text>
<line x1="280.6" y1="321.5" x2="348.8" y2="321.5" stroke="#231f20" stroke-width="0.9"/>
<line x1="296.5" y1="321.3" x2="296.5" y2="323.7" stroke="#231f20" stroke-width="0.9"/>
<text x="296.3" y="332.9" font-size="6.6" text-anchor="middle">24</text>
<line x1="331.5" y1="321.3" x2="331.5" y2="323.7" stroke="#231f20" stroke-width="0.9"/>
<text x="331" y="332.9" font-size="6.6" text-anchor="middle">36</text>
<text x="269" y="344.6" font-size="8.4" textLength="90.7" lengthAdjust="spacingAndGlyphs" class="b">Hours post PHZ treatment</text>
<rect x="284.2" y="315" width="5" height="6.3" fill="#a2a6c8" stroke="#9296bb" stroke-width="0.4"/>
<line x1="286.5" y1="315" x2="286.5" y2="310.8" stroke="#9296bb" stroke-width="0.8"/>
<line x1="285.3" y1="310.5" x2="288.1" y2="310.5" stroke="#9296bb" stroke-width="0.8"/>
<rect x="298.8" y="315" width="4.7" height="6.3" fill="#d9a08f" stroke="#cc917f" stroke-width="0.4"/>
<line x1="301.5" y1="315" x2="301.5" y2="312.3" stroke="#cc917f" stroke-width="0.8"/>
<line x1="299.75" y1="312.5" x2="302.55" y2="312.5" stroke="#cc917f" stroke-width="0.8"/>
<rect x="306" y="320.4" width="4.8" height="0.9" fill="#a42a3c" stroke="#922234" stroke-width="0.4"/>
<rect x="318.5" y="298.7" width="4.8" height="22.6" fill="#a2a6c8" stroke="#9296bb" stroke-width="0.4"/>
<rect x="318.5" y="280" width="4.8" height="14" fill="#a2a6c8" stroke="#9296bb" stroke-width="0.4"/>
<line x1="320.5" y1="280" x2="320.5" y2="277.5" stroke="#9296bb" stroke-width="0.8"/>
<line x1="319.5" y1="277.5" x2="322.3" y2="277.5" stroke="#9296bb" stroke-width="0.8"/>
<rect x="332.9" y="298.7" width="4.8" height="22.6" fill="#d9a08f" stroke="#cc917f" stroke-width="0.4"/>
<rect x="332.9" y="293.1" width="4.8" height="0.9" fill="#d9a08f" stroke="#cc917f" stroke-width="0.4"/>
<line x1="335.5" y1="293.1" x2="335.5" y2="291.2" stroke="#cc917f" stroke-width="0.8"/>
<line x1="333.9" y1="291.5" x2="336.7" y2="291.5" stroke="#cc917f" stroke-width="0.8"/>
<path d="M320.4,273.3 V270.4 H334.8 V289.6" stroke="#231f20" stroke-width="0.9" fill="none"/>
<text x="327.6" y="268.9" font-size="5.4" text-anchor="middle">*</text>
<rect x="352" y="257.9" width="5.9" height="4.8" fill="#a2a6c8"/>
<text x="361.2" y="262.2" font-size="5.1" textLength="33" lengthAdjust="spacingAndGlyphs">WT Anti-HIF2α</text>
<rect x="352" y="265.6" width="5.9" height="4.8" fill="#3b5784"/>
<text x="361.2" y="269.9" font-size="5.1" textLength="16" lengthAdjust="spacingAndGlyphs">WT IgG</text>
<rect x="352" y="273.5" width="5.9" height="4.8" fill="#d9a08f"/>
<text x="361.2" y="277.8" font-size="5.1" textLength="43" lengthAdjust="spacingAndGlyphs">Gdf15<tspan dy="-1.8" font-size="3.4">-/-</tspan><tspan dy="1.8"> Anti-HIF2α</tspan></text>
<rect x="352" y="281.4" width="5.9" height="4.8" fill="#a42a3c"/>
<text x="361.2" y="285.7" font-size="5.1" textLength="26.7" lengthAdjust="spacingAndGlyphs">Gdf15<tspan dy="-1.8" font-size="3.4">-/-</tspan><tspan dy="1.8"> IgG</tspan></text>
<rect x="7.2" y="363.8" width="1.5" height="7.7" fill="#231f20"/>
<text x="17.6" y="410" font-size="8.2" text-anchor="middle" textLength="90.7" lengthAdjust="spacingAndGlyphs" transform="rotate(-90 17.6 410)" class="b">Relative Vhl protein levels</text>
<text x="28" y="410" font-size="8.2" text-anchor="middle" textLength="76.6" lengthAdjust="spacingAndGlyphs" transform="rotate(-90 28 410)" class="b">(compared to β-actin)</text>
<line x1="48.5" y1="383.5" x2="48.5" y2="437.7" stroke="#231f20" stroke-width="0.9"/>
<line x1="46.5" y1="385.5" x2="48.7" y2="385.5" stroke="#231f20" stroke-width="0.9"/>
<text x="43.6" y="388.18" font-size="6.6" text-anchor="end">0.6</text>
<line x1="46.5" y1="403.5" x2="48.7" y2="403.5" stroke="#231f20" stroke-width="0.9"/>
<text x="43.6" y="405.48" font-size="6.6" text-anchor="end">0.4</text>
<line x1="46.5" y1="420.5" x2="48.7" y2="420.5" stroke="#231f20" stroke-width="0.9"/>
<text x="43.6" y="422.78" font-size="6.6" text-anchor="end">0.2</text>
<line x1="46.5" y1="437.5" x2="48.7" y2="437.5" stroke="#231f20" stroke-width="0.9"/>
<text x="43.6" y="440.08" font-size="6.6" text-anchor="end">0.0</text>
<line x1="48.7" y1="437.5" x2="126.2" y2="437.5" stroke="#231f20" stroke-width="0.9"/>
<line x1="58.5" y1="437.7" x2="58.5" y2="440.1" stroke="#231f20" stroke-width="0.9"/>
<text x="58.3" y="449.9" font-size="6.6" text-anchor="middle">4</text>
<line x1="77.5" y1="437.7" x2="77.5" y2="440.1" stroke="#231f20" stroke-width="0.9"/>
<text x="77.5" y="449.9" font-size="6.6" text-anchor="middle">6</text>
<line x1="96.5" y1="437.7" x2="96.5" y2="440.1" stroke="#231f20" stroke-width="0.9"/>
<text x="96.8" y="449.9" font-size="6.6" text-anchor="middle">8</text>
<line x1="116.5" y1="437.7" x2="116.5" y2="440.1" stroke="#231f20" stroke-width="0.9"/>
<text x="116.7" y="449.9" font-size="6.6" text-anchor="middle">10</text>
<text x="51" y="461.2" font-size="8.4" textLength="71.6" lengthAdjust="spacingAndGlyphs" class="b">Days post transplant</text>
<line x1="51.5" y1="437" x2="56.5" y2="437" stroke="#3d5f95" stroke-width="1.5"/>
<line x1="58.8" y1="437" x2="64.2" y2="437" stroke="#b2233b" stroke-width="1.5"/>
<line x1="71.3" y1="437" x2="76.2" y2="437" stroke="#3d5f95" stroke-width="1.5"/>
<line x1="78.5" y1="437" x2="83.8" y2="437" stroke="#b2233b" stroke-width="1.5"/>
<rect x="78.8" y="433.4" width="2.4" height="2.4" fill="#b2233b"/>
<rect x="80.8" y="434.8" width="2.4" height="2.4" fill="#b2233b"/>
<path d="M90.2,437.7 V431.2 H96 V437.7" stroke="#3d5f95" stroke-width="0.8" fill="none"/>
<line x1="93.5" y1="437.2" x2="93.5" y2="424.8" stroke="#3d5f95" stroke-width="0.7"/>
<line x1="91.8" y1="424.5" x2="94.4" y2="424.5" stroke="#3d5f95" stroke-width="0.7"/>
<path d="M97.3,437.7 V420.4 H103.5 V437.7" stroke="#b2233b" stroke-width="0.8" fill="none"/>
<line x1="100.5" y1="431.4" x2="100.5" y2="409.4" stroke="#b2233b" stroke-width="0.7"/>
<line x1="99.1" y1="409.5" x2="101.7" y2="409.5" stroke="#b2233b" stroke-width="0.7"/>
<path d="M110.4,437.7 V424.4 H115.6 V437.7" stroke="#3d5f95" stroke-width="0.8" fill="none"/>
<line x1="113.5" y1="430.8" x2="113.5" y2="418" stroke="#3d5f95" stroke-width="0.7"/>
<line x1="111.7" y1="418.5" x2="114.3" y2="418.5" stroke="#3d5f95" stroke-width="0.7"/>
<path d="M117.5,437.7 V410.4 H122.9 V437.7" stroke="#b2233b" stroke-width="0.8" fill="none"/>
<line x1="120.5" y1="423.9" x2="120.5" y2="396.9" stroke="#b2233b" stroke-width="0.7"/>
<line x1="118.9" y1="396.5" x2="121.5" y2="396.5" stroke="#b2233b" stroke-width="0.7"/>
<circle cx="93" cy="417.7" r="1.25" fill="#2c4f8c"/>
<circle cx="92" cy="436.5" r="1.25" fill="#2c4f8c"/>
<circle cx="94.5" cy="436.5" r="1.25" fill="#2c4f8c"/>
<rect x="99.2" y="408.2" width="2.4" height="2.4" fill="#b2233b"/>
<rect x="99.2" y="410.4" width="2.4" height="2.4" fill="#b2233b"/>
<rect x="99.2" y="435.3" width="2.4" height="2.4" fill="#b2233b"/>
<circle cx="111.8" cy="416.3" r="1.25" fill="#2c4f8c"/>
<circle cx="114.3" cy="418.3" r="1.25" fill="#2c4f8c"/>
<circle cx="113" cy="436.5" r="1.25" fill="#2c4f8c"/>
<rect x="119" y="390.9" width="2.4" height="2.4" fill="#b2233b"/>
<rect x="119" y="400.5" width="2.4" height="2.4" fill="#b2233b"/>
<rect x="119" y="435.3" width="2.4" height="2.4" fill="#b2233b"/>
<circle cx="52.5" cy="381.2" r="1.3" fill="#2c4f8c"/>
<text x="56.1" y="383.07" font-size="5.2">WT</text>
<rect x="51.2" y="386.4" width="2.6" height="2.6" fill="#b2233b"/>
<text x="56.1" y="389.57" font-size="5.2">Gdf15<tspan dy="-2" font-size="3.12">-/-</tspan></text>
<text x="143.3" y="410" font-size="8.2" text-anchor="middle" textLength="97" lengthAdjust="spacingAndGlyphs" transform="rotate(-90 143.3 410)" class="b">Relative Hif2<tspan font-style="italic">α</tspan> protein levels</text>
<text x="154.6" y="410" font-size="8.2" text-anchor="middle" textLength="76.6" lengthAdjust="spacingAndGlyphs" transform="rotate(-90 154.6 410)" class="b">(compared to β-actin)</text>
<line x1="173.5" y1="382.5" x2="173.5" y2="437.7" stroke="#231f20" stroke-width="0.9"/>
<line x1="171.6" y1="385.5" x2="173.8" y2="385.5" stroke="#231f20" stroke-width="0.9"/>
<text x="168.7" y="388.18" font-size="6.6" text-anchor="end">0.8</text>
<line x1="171.6" y1="398.5" x2="173.8" y2="398.5" stroke="#231f20" stroke-width="0.9"/>
<text x="168.7" y="401.18" font-size="6.6" text-anchor="end">0.6</text>
<line x1="171.6" y1="411.5" x2="173.8" y2="411.5" stroke="#231f20" stroke-width="0.9"/>
<text x="168.7" y="414.08" font-size="6.6" text-anchor="end">0.4</text>
<line x1="171.6" y1="424.5" x2="173.8" y2="424.5" stroke="#231f20" stroke-width="0.9"/>
<text x="168.7" y="426.98" font-size="6.6" text-anchor="end">0.2</text>
<line x1="171.6" y1="437.5" x2="173.8" y2="437.5" stroke="#231f20" stroke-width="0.9"/>
<text x="168.7" y="440.08" font-size="6.6" text-anchor="end">0.0</text>
<line x1="173.8" y1="437.5" x2="251.3" y2="437.5" stroke="#231f20" stroke-width="0.9"/>
<line x1="183.5" y1="437.7" x2="183.5" y2="440.1" stroke="#231f20" stroke-width="0.9"/>
<text x="183.1" y="449.9" font-size="6.6" text-anchor="middle">4</text>
<line x1="202.5" y1="437.7" x2="202.5" y2="440.1" stroke="#231f20" stroke-width="0.9"/>
<text x="202.7" y="449.9" font-size="6.6" text-anchor="middle">6</text>
<line x1="221.5" y1="437.7" x2="221.5" y2="440.1" stroke="#231f20" stroke-width="0.9"/>
<text x="221.9" y="449.9" font-size="6.6" text-anchor="middle">8</text>
<line x1="241.5" y1="437.7" x2="241.5" y2="440.1" stroke="#231f20" stroke-width="0.9"/>
<text x="241.7" y="449.9" font-size="6.6" text-anchor="middle">10</text>
<text x="176.7" y="461.2" font-size="8.4" textLength="72.3" lengthAdjust="spacingAndGlyphs" class="b">Days post transplant</text>
<line x1="176.9" y1="437" x2="181.5" y2="437" stroke="#3d5f95" stroke-width="1.5"/>
<line x1="184" y1="437" x2="189.2" y2="437" stroke="#b2233b" stroke-width="1.5"/>
<line x1="196.5" y1="437" x2="201.3" y2="437" stroke="#3d5f95" stroke-width="1.5"/>
<line x1="203.8" y1="437" x2="209" y2="437" stroke="#b2233b" stroke-width="1.5"/>
<path d="M215.8,437.7 V399.8 H221.2 V437.7" stroke="#3d5f95" stroke-width="0.8" fill="none"/>
<line x1="218.5" y1="406.9" x2="218.5" y2="392.7" stroke="#3d5f95" stroke-width="0.7"/>
<line x1="217.2" y1="392.5" x2="219.8" y2="392.5" stroke="#3d5f95" stroke-width="0.7"/>
<path d="M223.1,437.7 V423.8 H228.7 V437.7" stroke="#b2233b" stroke-width="0.8" fill="none"/>
<path d="M235,437.7 V409 H240.4 V437.7" stroke="#3d5f95" stroke-width="0.8" fill="none"/>
<line x1="237.5" y1="414.9" x2="237.5" y2="403.1" stroke="#3d5f95" stroke-width="0.7"/>
<line x1="236.4" y1="403.5" x2="239" y2="403.5" stroke="#3d5f95" stroke-width="0.7"/>
<path d="M242.3,437.7 V433.1 H247.5 V437.7" stroke="#b2233b" stroke-width="0.8" fill="none"/>
<circle cx="217.1" cy="390.8" r="1.25" fill="#2c4f8c"/>
<circle cx="219.8" cy="392.7" r="1.25" fill="#2c4f8c"/>
<circle cx="218.1" cy="416.7" r="1.25" fill="#2c4f8c"/>
<rect x="223.3" y="421.8" width="2.4" height="2.4" fill="#b2233b"/>
<rect x="224.8" y="420.6" width="2.4" height="2.4" fill="#b2233b"/>
<rect x="226.3" y="422" width="2.4" height="2.4" fill="#b2233b"/>
<rect x="224" y="423.8" width="2.4" height="2.4" fill="#b2233b"/>
<circle cx="237.9" cy="397.9" r="1.25" fill="#2c4f8c"/>
<circle cx="237.9" cy="420.4" r="1.25" fill="#2c4f8c"/>
<circle cx="238.5" cy="436.5" r="1.25" fill="#2c4f8c"/>
<rect x="244" y="426.5" width="2.4" height="2.4" fill="#b2233b"/>
<rect x="245.1" y="435" width="2.4" height="2.4" fill="#b2233b"/>
<rect x="242.8" y="432.8" width="2.4" height="2.4" fill="#b2233b"/>
<line x1="218.3" y1="387.5" x2="225.8" y2="387.5" stroke="#231f20" stroke-width="0.9"/>
<text x="222.05" y="388.1" font-size="6" text-anchor="middle" textLength="1.9" lengthAdjust="spacingAndGlyphs">*</text>
<line x1="237.9" y1="393.5" x2="245.2" y2="393.5" stroke="#231f20" stroke-width="0.9"/>
<text x="241.55" y="394.1" font-size="6" text-anchor="middle" textLength="1.9" lengthAdjust="spacingAndGlyphs">*</text>
<circle cx="177.3" cy="381.2" r="1.3" fill="#2c4f8c"/>
<text x="180.9" y="383.07" font-size="5.2">WT</text>
<rect x="176" y="386.6" width="2.6" height="2.6" fill="#b2233b"/>
<text x="180.9" y="389.77" font-size="5.2">Gdf15<tspan dy="-2" font-size="3.12">-/-</tspan></text>
<path d="M269.5,363.9 V369.0 Q269.5,371.4 267.3,371.4 Q266.6,371.4 266.1,371.0" stroke="#231f20" stroke-width="1.15" fill="none"/>
<text x="277.8" y="410.3" font-size="8.2" text-anchor="middle" textLength="89.5" lengthAdjust="spacingAndGlyphs" transform="rotate(-90 277.8 410.3)" class="b">Relative Vhl protein levels</text>
<text x="288.6" y="410.3" font-size="8.2" text-anchor="middle" textLength="76.6" lengthAdjust="spacingAndGlyphs" transform="rotate(-90 288.6 410.3)" class="b">(compared to β-actin)</text>
<line x1="308.5" y1="383.8" x2="308.5" y2="437.7" stroke="#231f20" stroke-width="0.9"/>
<line x1="306.6" y1="386.5" x2="308.8" y2="386.5" stroke="#231f20" stroke-width="0.9"/>
<text x="303.7" y="388.68" font-size="6.6" text-anchor="end">0.5</text>
<line x1="306.6" y1="396.5" x2="308.8" y2="396.5" stroke="#231f20" stroke-width="0.9"/>
<text x="303.7" y="398.96" font-size="6.6" text-anchor="end">0.4</text>
<line x1="306.6" y1="406.5" x2="308.8" y2="406.5" stroke="#231f20" stroke-width="0.9"/>
<text x="303.7" y="409.24" font-size="6.6" text-anchor="end">0.3</text>
<line x1="306.6" y1="417.5" x2="308.8" y2="417.5" stroke="#231f20" stroke-width="0.9"/>
<text x="303.7" y="419.52" font-size="6.6" text-anchor="end">0.2</text>
<line x1="306.6" y1="427.5" x2="308.8" y2="427.5" stroke="#231f20" stroke-width="0.9"/>
<text x="303.7" y="429.8" font-size="6.6" text-anchor="end">0.1</text>
<line x1="306.6" y1="437.5" x2="308.8" y2="437.5" stroke="#231f20" stroke-width="0.9"/>
<text x="303.7" y="440.08" font-size="6.6" text-anchor="end">0.0</text>
<line x1="308.8" y1="437.5" x2="386.3" y2="437.5" stroke="#231f20" stroke-width="0.9"/>
<line x1="321.5" y1="437.7" x2="321.5" y2="440.1" stroke="#231f20" stroke-width="0.9"/>
<text x="321.5" y="449.9" font-size="6.6" text-anchor="middle">0</text>
<line x1="347.5" y1="437.7" x2="347.5" y2="440.1" stroke="#231f20" stroke-width="0.9"/>
<text x="347.3" y="449.9" font-size="6.6" text-anchor="middle">24</text>
<line x1="373.5" y1="437.7" x2="373.5" y2="440.1" stroke="#231f20" stroke-width="0.9"/>
<text x="373.5" y="449.9" font-size="6.6" text-anchor="middle">36</text>
<text x="301.9" y="460.8" font-size="8.4" textLength="91" lengthAdjust="spacingAndGlyphs" class="b">Hours post PHZ treatment</text>
<path d="M313.3,437.7 V417.1 H321 V437.7" stroke="#3d5f95" stroke-width="0.8" fill="none"/>
<line x1="317.5" y1="422.3" x2="317.5" y2="411.9" stroke="#3d5f95" stroke-width="0.7"/>
<line x1="315.85" y1="411.5" x2="318.45" y2="411.5" stroke="#3d5f95" stroke-width="0.7"/>
<path d="M322.9,437.7 V407.1 H330.6 V437.7" stroke="#b2233b" stroke-width="0.8" fill="none"/>
<line x1="326.5" y1="413" x2="326.5" y2="401.2" stroke="#b2233b" stroke-width="0.7"/>
<line x1="325.45" y1="401.5" x2="328.05" y2="401.5" stroke="#b2233b" stroke-width="0.7"/>
<path d="M339.2,437.7 V429.2 H346 V437.7" stroke="#3d5f95" stroke-width="0.8" fill="none"/>
<path d="M348.8,437.7 V411.9 H356 V437.7" stroke="#b2233b" stroke-width="0.8" fill="none"/>
<path d="M365.2,437.7 V434 H371.9 V437.7" stroke="#3d5f95" stroke-width="0.8" fill="none"/>
<path d="M374.4,437.7 V425.8 H381.5 V437.7" stroke="#b2233b" stroke-width="0.8" fill="none"/>
<line x1="377.5" y1="431.2" x2="377.5" y2="420.4" stroke="#b2233b" stroke-width="0.7"/>
<line x1="376.65" y1="420.5" x2="379.25" y2="420.5" stroke="#b2233b" stroke-width="0.7"/>
<circle cx="317.2" cy="412.5" r="1.25" fill="#2c4f8c"/>
<circle cx="317.2" cy="415.5" r="1.25" fill="#2c4f8c"/>
<circle cx="317.2" cy="420.5" r="1.25" fill="#2c4f8c"/>
<circle cx="317.2" cy="422.5" r="1.25" fill="#2c4f8c"/>
<rect x="325.3" y="396.3" width="2.4" height="2.4" fill="#b2233b"/>
<rect x="325.3" y="404.3" width="2.4" height="2.4" fill="#b2233b"/>
<rect x="325.3" y="416.9" width="2.4" height="2.4" fill="#b2233b"/>
<circle cx="341" cy="428.5" r="1.25" fill="#2c4f8c"/>
<circle cx="343" cy="429.5" r="1.25" fill="#2c4f8c"/>
<circle cx="345" cy="429" r="1.25" fill="#2c4f8c"/>
<rect x="349.3" y="409.3" width="2.4" height="2.4" fill="#b2233b"/>
<rect x="352.3" y="409.8" width="2.4" height="2.4" fill="#b2233b"/>
<rect x="350.8" y="412.3" width="2.4" height="2.4" fill="#b2233b"/>
<circle cx="367" cy="432.5" r="1.25" fill="#2c4f8c"/>
<circle cx="368.6" cy="430.8" r="1.25" fill="#2c4f8c"/>
<circle cx="370.2" cy="432.8" r="1.25" fill="#2c4f8c"/>
<rect x="376.9" y="414.4" width="2.4" height="2.4" fill="#b2233b"/>
<rect x="375" y="426.8" width="2.4" height="2.4" fill="#b2233b"/>
<rect x="378.8" y="426.3" width="2.4" height="2.4" fill="#b2233b"/>
<line x1="342.7" y1="405.5" x2="351.7" y2="405.5" stroke="#231f20" stroke-width="0.9"/>
<text x="347.2" y="406.1" font-size="6" text-anchor="middle" textLength="5.7" lengthAdjust="spacingAndGlyphs">***</text>
<circle cx="364.6" cy="383.8" r="1.3" fill="#2c4f8c"/>
<text x="368.2" y="385.67" font-size="5.2">WT</text>
<rect x="363.3" y="388.9" width="2.6" height="2.6" fill="#b2233b"/>
<text x="368.2" y="392.07" font-size="5.2">Gdf15<tspan dy="-2" font-size="3.12">-/-</tspan></text>
<text x="403.8" y="410.6" font-size="8.2" text-anchor="middle" textLength="99.4" lengthAdjust="spacingAndGlyphs" transform="rotate(-90 403.8 410.6)" class="b">Relative Hif2<tspan font-style="italic">α</tspan> protein levels</text>
<text x="415" y="411" font-size="8.2" text-anchor="middle" textLength="78" lengthAdjust="spacingAndGlyphs" transform="rotate(-90 415 411)" class="b">(compared to β-actin)</text>
<line x1="434.5" y1="383.2" x2="434.5" y2="437.7" stroke="#231f20" stroke-width="0.9"/>
<line x1="432.1" y1="386.5" x2="434.3" y2="386.5" stroke="#231f20" stroke-width="0.9"/>
<text x="429.2" y="388.68" font-size="6.6" text-anchor="end">2.0</text>
<line x1="432.1" y1="399.5" x2="434.3" y2="399.5" stroke="#231f20" stroke-width="0.9"/>
<text x="429.2" y="401.53" font-size="6.6" text-anchor="end">1.5</text>
<line x1="432.1" y1="412.5" x2="434.3" y2="412.5" stroke="#231f20" stroke-width="0.9"/>
<text x="429.2" y="414.38" font-size="6.6" text-anchor="end">1.0</text>
<line x1="432.1" y1="424.5" x2="434.3" y2="424.5" stroke="#231f20" stroke-width="0.9"/>
<text x="429.2" y="427.23" font-size="6.6" text-anchor="end">0.5</text>
<line x1="432.1" y1="437.5" x2="434.3" y2="437.5" stroke="#231f20" stroke-width="0.9"/>
<text x="429.2" y="440.08" font-size="6.6" text-anchor="end">0.0</text>
<line x1="434.3" y1="437.5" x2="512.2" y2="437.5" stroke="#231f20" stroke-width="0.9"/>
<line x1="447.5" y1="437.7" x2="447.5" y2="440.1" stroke="#231f20" stroke-width="0.9"/>
<text x="447.3" y="449.9" font-size="6.6" text-anchor="middle">0</text>
<line x1="472.5" y1="437.7" x2="472.5" y2="440.1" stroke="#231f20" stroke-width="0.9"/>
<text x="472.5" y="449.9" font-size="6.6" text-anchor="middle">24</text>
<line x1="499.5" y1="437.7" x2="499.5" y2="440.1" stroke="#231f20" stroke-width="0.9"/>
<text x="499.2" y="449.9" font-size="6.6" text-anchor="middle">36</text>
<text x="427.8" y="460.8" font-size="8.4" textLength="90.9" lengthAdjust="spacingAndGlyphs" class="b">Hours post PHZ treatment</text>
<path d="M439.5,437.7 V436.3 H445.2 V437.7" stroke="#3d5f95" stroke-width="0.8" fill="none"/>
<line x1="449.4" y1="437" x2="455.1" y2="437" stroke="#b2233b" stroke-width="1.5"/>
<path d="M465,437.7 V431.8 H472 V437.7" stroke="#3d5f95" stroke-width="0.8" fill="none"/>
<line x1="475.3" y1="437" x2="481.6" y2="437" stroke="#b2233b" stroke-width="1.5"/>
<path d="M490.9,437.7 V409.2 H497.9 V437.7" stroke="#3d5f95" stroke-width="0.8" fill="none"/>
<line x1="494.5" y1="415.2" x2="494.5" y2="403.2" stroke="#3d5f95" stroke-width="0.7"/>
<line x1="493.1" y1="403.5" x2="495.7" y2="403.5" stroke="#3d5f95" stroke-width="0.7"/>
<path d="M500.5,437.7 V429.6 H507.5 V437.7" stroke="#b2233b" stroke-width="0.8" fill="none"/>
<line x1="504.5" y1="433.5" x2="504.5" y2="425.5" stroke="#b2233b" stroke-width="0.7"/>
<line x1="502.7" y1="425.5" x2="505.3" y2="425.5" stroke="#b2233b" stroke-width="0.7"/>
<circle cx="441" cy="436" r="1.25" fill="#2c4f8c"/>
<circle cx="443" cy="435.6" r="1.25" fill="#2c4f8c"/>
<circle cx="444.5" cy="436.2" r="1.25" fill="#2c4f8c"/>
<circle cx="467" cy="430.5" r="1.25" fill="#2c4f8c"/>
<circle cx="469" cy="429.8" r="1.25" fill="#2c4f8c"/>
<circle cx="470.8" cy="431" r="1.25" fill="#2c4f8c"/>
<circle cx="494" cy="398" r="1.25" fill="#2c4f8c"/>
<circle cx="494" cy="417.5" r="1.25" fill="#2c4f8c"/>
<circle cx="495" cy="407" r="1.25" fill="#2c4f8c"/>
<rect x="501.8" y="424.3" width="2.4" height="2.4" fill="#b2233b"/>
<rect x="504.3" y="425.8" width="2.4" height="2.4" fill="#b2233b"/>
<rect x="502.3" y="432.3" width="2.4" height="2.4" fill="#b2233b"/>
<line x1="468.1" y1="425.5" x2="478.5" y2="425.5" stroke="#231f20" stroke-width="0.9"/>
<text x="473.3" y="426.1" font-size="6" text-anchor="middle" textLength="3.8" lengthAdjust="spacingAndGlyphs">**</text>
<line x1="494" y1="394.5" x2="503.9" y2="394.5" stroke="#231f20" stroke-width="0.9"/>
<text x="498.95" y="395.1" font-size="6" text-anchor="middle" textLength="1.9" lengthAdjust="spacingAndGlyphs">*</text>
<circle cx="440.8" cy="383.2" r="1.3" fill="#2c4f8c"/>
<text x="444.4" y="385.07" font-size="5.2">WT</text>
<rect x="439.5" y="388.2" width="2.6" height="2.6" fill="#b2233b"/>
<text x="444.4" y="391.37" font-size="5.2">Gdf15<tspan dy="-2" font-size="3.12">-/-</tspan></text>
<rect x="518" y="0" width="1" height="470" fill="#b8b8b8"/>
<rect x="519" y="0" width="1" height="470" fill="#4a4a4a"/>
<rect x="0" y="0" width="520" height="1" fill="#111"/>
<rect x="0" y="0" width="1" height="470" fill="#111"/>
<rect x="0" y="469" width="520" height="1" fill="#111"/>
</svg></body></html>
